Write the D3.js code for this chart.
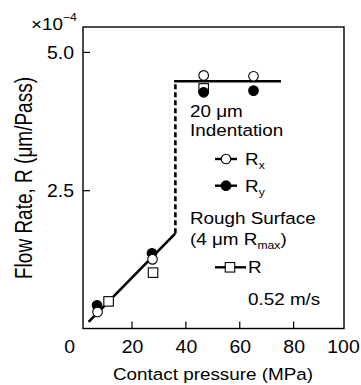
<!DOCTYPE html>
<html><head><meta charset="utf-8">
<script src="https://cdn.jsdelivr.net/npm/d3@7"></script>
<style>body{margin:0;background:#fff}</style>
</head><body><svg id="c" width="361" height="385"></svg>
<script>
// ---- data (flow rate in units of 1e-4 um/pass, pressure in MPa) ----
const pressureRx = [7.2, 27.6, 46.6, 65.1];
const flowRx     = [0.30, 1.25, 4.575, 4.56];
const pressureRy = [7.0, 27.4, 46.6, 65.1];
const flowRy     = [0.42, 1.36, 4.27, 4.30];
const pressureR  = [11.3, 27.8, 46.6];
const flowR      = [0.49, 1.01, 4.34];
const roughLineX  = [3.9, 36.1];
const roughLineY  = [0.12, 1.72];
const jumpLineX   = [36.1, 36.1];
const jumpLineY   = [1.72, 4.47];
const indentLineX = [36.1, 74.8];
const indentLineY = [4.47, 4.47];
const xTicks = [0, 20, 40, 60, 80, 100];
const yTicks = [2.5, 5.0];

const S = 1.11;            // horizontal stretch of the original lettering
const FONT = "'Liberation Sans', Arial, Helvetica, sans-serif";

const svg = d3.select("#c");
svg.append("rect").attr("width",361).attr("height",385).attr("fill","#fff");

const x = d3.scaleLinear().domain([1.8, 98.7]).range([83, 344]);
const y = d3.scaleLinear().domain([0, 5.45]).range([328.5, 27]);

function stretched(sel, px, py) {
  return sel.attr("transform", `translate(${px},${py}) scale(${S},1)`);
}

// frame
svg.append("rect").attr("x", x.range()[0]).attr("y", y.range()[1])
  .attr("width", x.range()[1]-x.range()[0]).attr("height", y.range()[0]-y.range()[1])
  .attr("fill","none").attr("stroke","#000").attr("stroke-width",1.4);

// x axis
const inX = xTicks.filter(t => x(t) > x.range()[0] && x(t) < x.range()[1]);
const gx = svg.append("g").attr("transform", `translate(0,${y.range()[0]})`)
  .call(d3.axisBottom(x).tickValues(xTicks).tickSize(0).tickPadding(0).tickFormat(d3.format("d")));
gx.select(".domain").remove();
gx.selectAll(".tick text").each(function(d,i){
  const t = d3.select(this);
  const dx = d === 0 ? -9 : (d === 100 ? -4.5 : 0);
  t.attr("x",0).attr("y",0).attr("dy",null)
   .attr("transform", `translate(${dx},24.5) scale(${S},1)`)
   .attr("font-size",17.5).attr("font-family",FONT).attr("fill","#000");
});
svg.append("g").selectAll("line").data(inX).join("line")
  .attr("x1", d=>x(d)).attr("x2", d=>x(d))
  .attr("y1", y.range()[0]).attr("y2", y.range()[0]-7)
  .attr("stroke","#000").attr("stroke-width",1.2);

// y axis
const gy = svg.append("g").attr("transform", `translate(${x.range()[0]},0)`)
  .call(d3.axisLeft(y).tickValues(yTicks).tickSizeInner(-7).tickSizeOuter(0).tickPadding(9).tickFormat(d3.format(".1f")));
gy.select(".domain").remove();
gy.selectAll(".tick line").attr("stroke","#000").attr("stroke-width",1.2);
gy.selectAll(".tick text").each(function(){
  const t = d3.select(this);
  const px = +t.attr("x");
  t.attr("x",0).attr("dy","0.35em")
   .attr("transform", `translate(${px},0) scale(${S},1)`)
   .attr("font-size",17.5).attr("font-family",FONT).attr("fill","#000");
});

// exponent label
const ex = svg.append("text").attr("font-family",FONT).attr("font-size",17).attr("fill","#000");
stretched(ex, 31, 30);
ex.append("tspan").text("\u00d710");
ex.append("tspan").attr("font-size",11).attr("dy",-9).text("\u22124");

// axis titles
const xt = svg.append("text").attr("font-family",FONT).attr("font-size",17)
  .attr("text-anchor","middle").text("Contact pressure (MPa)");
stretched(xt, 213, 380);
svg.append("text").attr("font-family",FONT).attr("font-size",19)
  .attr("text-anchor","middle")
  .attr("transform", `translate(31.5,178) scale(1.22,1) rotate(-90)`)
  .text("Flow Rate, R (\u03bcm/Pass)");

// trend lines
const line = d3.line().x(d=>x(d[0])).y(d=>y(d[1]));
svg.append("path").attr("d", line(d3.zip(roughLineX, roughLineY)))
  .attr("fill","none").attr("stroke","#000").attr("stroke-width",2.6);
svg.append("path").attr("d", line(d3.zip(jumpLineX, jumpLineY)))
  .attr("fill","none").attr("stroke","#000").attr("stroke-width",2.6).attr("stroke-dasharray","5,3");
svg.append("path").attr("d", line(d3.zip(indentLineX, indentLineY)))
  .attr("fill","none").attr("stroke","#000").attr("stroke-width",2.6).attr("stroke-linecap","square");

// markers
const sq = 9.5, r = 4.8;
svg.append("g").selectAll("rect").data(d3.zip(pressureR, flowR)).join("rect")
  .attr("x", d=>x(d[0])-sq/2).attr("y", d=>y(d[1])-sq/2).attr("width",sq).attr("height",sq)
  .attr("fill","#fff").attr("stroke","#000").attr("stroke-width",1.1);
svg.append("g").selectAll("circle").data(d3.zip(pressureRy, flowRy)).join("circle")
  .attr("cx", d=>x(d[0])).attr("cy", d=>y(d[1])).attr("r",r)
  .attr("fill","#000").attr("stroke","#000").attr("stroke-width",1.1);
svg.append("g").selectAll("circle").data(d3.zip(pressureRx, flowRx)).join("circle")
  .attr("cx", d=>x(d[0])).attr("cy", d=>y(d[1])).attr("r",r)
  .attr("fill","#fff").attr("stroke","#000").attr("stroke-width",1.1);

// annotations
function label(px, py, parts, size) {
  const t = svg.append("text").attr("font-family",FONT).attr("font-size",size||17).attr("fill","#000");
  stretched(t, px, py);
  parts.forEach(p => {
    const ts = t.append("tspan").text(p.t);
    if (p.sub) ts.attr("font-size",11).attr("dy",4);
    if (p.back) ts.attr("dy",-4);
  });
  return t;
}
label(190, 116.5, [{t:"20 \u03bcm"}]);
label(190, 135.7, [{t:"Indentation"}]);
label(190, 224.3, [{t:"Rough Surface"}]);
label(190, 245, [{t:"(4 \u03bcm R"},{t:"max",sub:true},{t:")",back:true}]);
label(248, 305, [{t:"0.52 m/s"}]);

// legend
const legend = [
  {name:"R", sub:"x", kind:"open",   x1:215, x2:237, mx:226, my:159, tx:245},
  {name:"R", sub:"y", kind:"filled", x1:215, x2:237, mx:226, my:185.7, tx:245},
  {name:"R", sub:null, kind:"square", x1:215, x2:246, mx:230, my:267.3, tx:248}
];
legend.forEach(l => {
  svg.append("line").attr("x1",l.x1).attr("x2",l.x2).attr("y1",l.my).attr("y2",l.my)
    .attr("stroke","#000").attr("stroke-width",2.4);
  if (l.kind === "square") {
    svg.append("rect").attr("x",l.mx-sq/2).attr("y",l.my-sq/2).attr("width",sq).attr("height",sq)
      .attr("fill","#fff").attr("stroke","#000").attr("stroke-width",1.1);
  } else {
    svg.append("circle").attr("cx",l.mx).attr("cy",l.my).attr("r",r)
      .attr("fill", l.kind==="filled" ? "#000" : "#fff").attr("stroke","#000").attr("stroke-width",1.1);
  }
  const parts = [{t:l.name}];
  if (l.sub) parts.push({t:l.sub, sub:true});
  label(l.tx, l.my+6, parts);
});
</script></body></html>
